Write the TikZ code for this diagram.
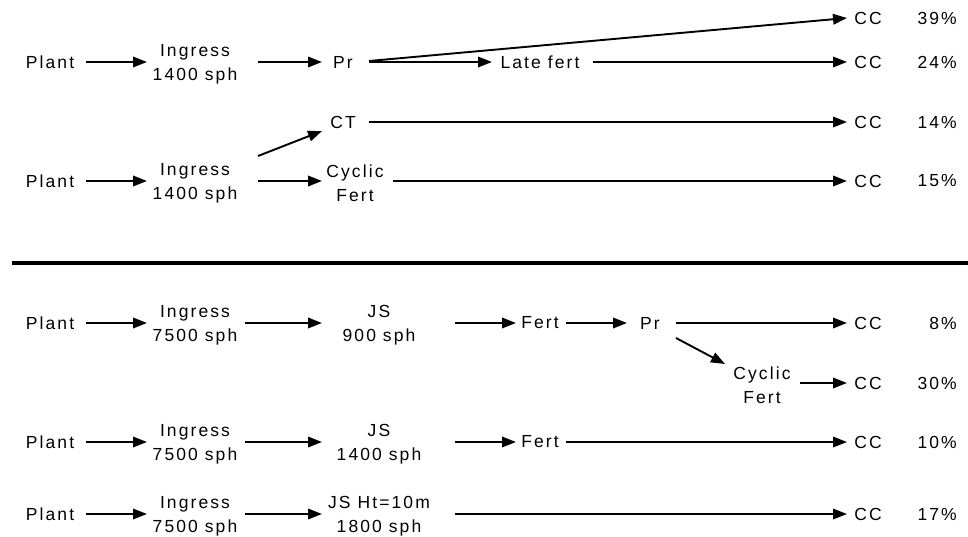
\documentclass[tikz,border=0pt]{standalone}
\usepackage{fontspec}
\setmainfont{Liberation Sans}[LetterSpace=12]
\usetikzlibrary{arrows.meta}
\begin{document}
\begin{tikzpicture}[x=1pt,y=-1pt,
  every node/.style={inner sep=0pt,font=\fontsize{17.5}{24}\selectfont,align=center},
  arr/.style={line width=1.9pt,-{Triangle[length=14pt,width=10.5pt]}},
  pct/.style={anchor=east}]
\useasboundingbox (0,0) rectangle (968,537);
% ---------- top ----------
\node (p1) at (50,62) {Plant};
\node (i1) at (195,64) {Ingress\\1400 sph};
\node (pr1) at (343,62) {Pr};
\node (late) at (540,62) {Late fert};
\node (cc1) at (868,18) {CC};
\node[pct] (q1) at (957,18) {39\%};
\node (cc2) at (868,62) {CC};
\node[pct] (q2) at (957,62) {24\%};
\node (p2) at (50,181) {Plant};
\node (i2) at (195,183) {Ingress\\1400 sph};
\node (ct) at (343,122) {CT};
\node (cyc1) at (355,183) {Cyclic\\Fert};
\node (cc3) at (868,122) {CC};
\node[pct] (q3) at (957,122) {14\%};
\node (cc4) at (868,181) {CC};
\node[pct] (q4) at (957,181) {15\%};
\draw[arr] ([xshift=36pt]p1.center) -- ([xshift=-48pt]p1.center -| i1.center);
\draw[arr] ([xshift=63pt]i1.center |- p1.center) -- ([xshift=-21pt]pr1.center);
\draw[arr] ([xshift=26pt]pr1.center) -- ([xshift=-48pt]late.center);
\draw[arr] ([xshift=26pt,yshift=1pt]pr1.center) -- ([xshift=-21pt]cc1.center);
\draw[arr] ([xshift=53pt]late.center) -- ([xshift=-21pt]cc2.center);
\draw[arr] ([xshift=36pt]p2.center) -- ([xshift=-48pt]p2.center -| i2.center);
\draw[arr] ([xshift=63pt,yshift=27pt]i2.center) -- ([xshift=-21pt,yshift=-9pt]ct.center);
\draw[arr] ([xshift=63pt]i2.center |- p2.center) -- ([xshift=-33pt]cyc1.center |- p2.center);
\draw[arr] ([xshift=26pt]ct.center) -- ([xshift=-21pt]cc3.center);
\draw[arr] ([xshift=38pt]cyc1.center |- cc4.center) -- ([xshift=-21pt]cc4.center);
% ---------- separator ----------
\draw[line width=4pt] (12,263) -- (968,263);
% ---------- bottom ----------
\node (p3) at (50,323) {Plant};
\node (i3) at (195,325) {Ingress\\7500 sph};
\node (js1) at (379,325) {JS\\900 sph};
\node (fert1) at (540,323) {Fert};
\node (pr2) at (650,323) {Pr};
\node (cc5) at (868,323) {CC};
\node[pct] (q5) at (957,323) {8\%};
\node (cyc2) at (762,385) {Cyclic\\Fert};
\node (cc6) at (868,383) {CC};
\node[pct] (q6) at (957,383) {30\%};
\node (p4) at (50,442) {Plant};
\node (i4) at (195,444) {Ingress\\7500 sph};
\node (js2) at (379,444) {JS\\1400 sph};
\node (fert2) at (540,442) {Fert};
\node (cc7) at (868,442) {CC};
\node[pct] (q7) at (957,442) {10\%};
\node (p5) at (50,514) {Plant};
\node (i5) at (195,516) {Ingress\\7500 sph};
\node (js3) at (379,516) {JS Ht=10m\\1800 sph};
\node (cc8) at (868,514) {CC};
\node[pct] (q8) at (957,514) {17\%};
\draw[arr] ([xshift=36pt]p3.center) -- ([xshift=-48pt]p3.center -| i3.center);
\draw[arr] ([xshift=50pt]i3.center |- p3.center) -- ([xshift=-57pt]js1.center |- p3.center);
\draw[arr] ([xshift=76pt]js1.center |- fert1.center) -- ([xshift=-24pt]fert1.center);
\draw[arr] ([xshift=26pt]fert1.center) -- ([xshift=-23pt]pr2.center);
\draw[arr] ([xshift=26pt]pr2.center) -- ([xshift=-21pt]cc5.center);
\draw[arr] ([xshift=26pt,yshift=-15pt]pr2.center) -- ([xshift=-37pt,yshift=21pt]cyc2.center);
\draw[arr] ([xshift=38pt]cyc2.center |- cc6.center) -- ([xshift=-21pt]cc6.center);
\draw[arr] ([xshift=36pt]p4.center) -- ([xshift=-48pt]p4.center -| i4.center);
\draw[arr] ([xshift=50pt]i4.center |- p4.center) -- ([xshift=-57pt]js2.center |- p4.center);
\draw[arr] ([xshift=76pt]js2.center |- fert2.center) -- ([xshift=-24pt]fert2.center);
\draw[arr] ([xshift=26pt]fert2.center) -- ([xshift=-21pt]cc7.center);
\draw[arr] ([xshift=36pt]p5.center) -- ([xshift=-48pt]p5.center -| i5.center);
\draw[arr] ([xshift=50pt]i5.center |- p5.center) -- ([xshift=-57pt]js3.center |- p5.center);
\draw[arr] ([xshift=76pt]js3.center |- cc8.center) -- ([xshift=-21pt]cc8.center);
\end{tikzpicture}
\end{document}
